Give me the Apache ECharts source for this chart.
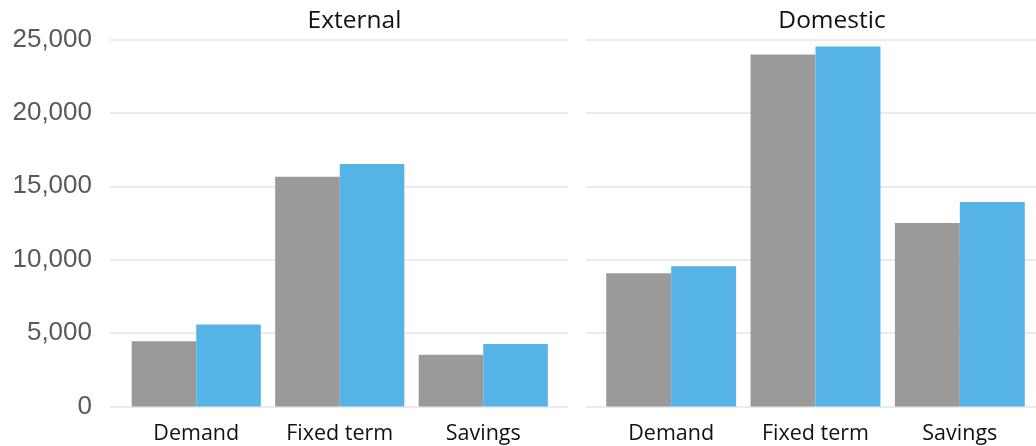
<!DOCTYPE html>
<html>
<head>
<meta charset="utf-8">
<script src="https://cdn.jsdelivr.net/npm/echarts@6/dist/echarts.min.js"></script>
<style>
  html, body { margin: 0; padding: 0; background: #fff; }
  #panel { width: 1036px; height: 446px; }
</style>
</head>
<body>
<div id="panel"></div>
<script>
const categories = ['Demand', 'Fixed term', 'Savings'];
const panelTitles = ['External', 'Domestic'];
// grey = earlier period, blue = later period
const externalGrey = [4450, 15650, 3530];
const externalBlue = [5580, 16520, 4250];
const domesticGrey = [9080, 23980, 12500];
const domesticBlue = [9560, 24520, 13930];
const COLORS = ['#9a9a9a', '#56b3e6'];

const chart = echarts.init(document.getElementById('panel'));

const TOP = 39.5;
const HEIGHT = 367;
const catFont = { fontFamily: 'Open Sans', fontSize: 21.5, color: '#111' };
const titleFont = { fontFamily: 'Open Sans', fontSize: 24.5, fontWeight: 'normal', color: '#111' };

// background grids carry the gridlines, bar grids carry the bars
const bgY = (idx, showLabels) => ({
  type: 'value',
  gridIndex: idx,
  min: 0,
  max: 25000,
  interval: 5000,
  axisLine: { show: false },
  axisTick: { show: false },
  splitLine: { show: true, lineStyle: { color: '#e4e4e4', width: 1.5 } },
  axisLabel: {
    show: showLabels,
    margin: 18,
    fontFamily: 'Liberation Sans',
    fontSize: 26,
    color: '#595959',
    formatter: (v) => v.toLocaleString('en-US'),
  },
});
const barY = (idx) => ({
  type: 'value',
  gridIndex: idx,
  min: 0,
  max: 25000,
  interval: 5000,
  show: false,
});
const bgX = (idx) => ({ type: 'category', gridIndex: idx, data: categories, show: false });
const barX = (idx) => ({
  type: 'category',
  gridIndex: idx,
  data: categories,
  axisLine: { show: false },
  axisTick: { show: false },
  axisLabel: { margin: 16, ...catFont },
});

const bar = (idx, data, color) => ({
  type: 'bar',
  xAxisIndex: idx,
  yAxisIndex: idx,
  data: data,
  barGap: '0%',
  barCategoryGap: '10%',
  itemStyle: { color: color },
  silent: true,
});

const option = {
  backgroundColor: '#fff',
  animation: false,
  title: [
    { text: panelTitles[0], left: 349.5, top: 4, textAlign: 'center', textStyle: titleFont },
    { text: panelTitles[1], left: 827, top: 4, textAlign: 'center', textStyle: titleFont },
  ],
  grid: [
    { left: 110, width: 458, top: TOP, height: HEIGHT },
    { left: 124.5, width: 430.5, top: TOP, height: HEIGHT },
    { left: 586, width: 450, top: TOP, height: HEIGHT },
    { left: 599, width: 433, top: TOP, height: HEIGHT },
  ],
  xAxis: [bgX(0), barX(1), bgX(2), barX(3)],
  yAxis: [bgY(0, true), barY(1), bgY(2, false), barY(3)],
  series: [
    bar(1, externalGrey, COLORS[0]),
    bar(1, externalBlue, COLORS[1]),
    bar(3, domesticGrey, COLORS[0]),
    bar(3, domesticBlue, COLORS[1]),
  ],
};

chart.setOption(option);
</script>
</body>
</html>
